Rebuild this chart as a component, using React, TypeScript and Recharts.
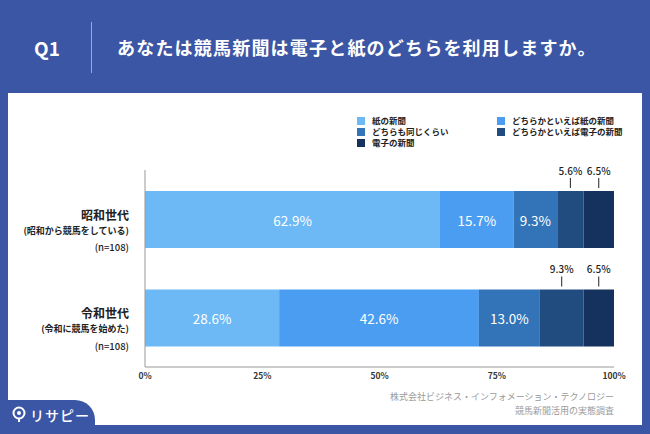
import React from "react";
import { BarChart, Bar, XAxis, YAxis, LabelList } from "recharts";

const categories = ["昭和世代", "令和世代"];
const subLabels = ["(昭和から競馬をしている)", "(令和に競馬を始めた)"];
const sampleSizes = ["(n=108)", "(n=108)"];

const seriesNames = [
  "紙の新聞",
  "どちらかといえば紙の新聞",
  "どちらも同じくらい",
  "どちらかといえば電子の新聞",
  "電子の新聞",
];
const paperOnly = [62.9, 28.6];
const ratherPaper = [15.7, 42.6];
const both = [9.3, 13.0];
const ratherDigital = [5.6, 9.3];
const digitalOnly = [6.5, 6.5];
const xTicks = [0, 25, 50, 75, 100];

const colors = ["#6db9f6", "#4a9df0", "#3373b8", "#214c80", "#15315d"];
const outside = [false, false, false, true, true];
const BLUE = "#3b56a4";
const FONT = "'Noto Sans CJK JP', 'Noto Sans', sans-serif";

const keys = ["s0", "s1", "s2", "s3", "s4"];
const values = [paperOnly, ratherPaper, both, ratherDigital, digitalOnly];
const data = categories.map((name, i) => {
  const row: any = { name };
  keys.forEach((k, j) => (row[k] = values[j][i]));
  return row;
});

const makeLabel = (out: boolean) => (props: any) => {
  const { x, y, width, height, value } = props;
  const cx = x + width / 2;
  if (out) {
    return (
      <g>
        <text x={cx} y={y - 21} textAnchor="middle" dominantBaseline="central"
          fontSize={10} fill="#222" fontFamily={FONT} fontWeight={500}>
          {value.toFixed(1)}%
        </text>
        <line x1={cx} x2={cx} y1={y - 13} y2={y - 3} stroke="#222" strokeWidth={1} />
      </g>
    );
  }
  return (
    <text x={cx} y={y + height / 2} textAnchor="middle" dominantBaseline="central"
      fontSize={13.5} fill="#fff" fontFamily={FONT}>
      {value.toFixed(1)}%
    </text>
  );
};

const CategoryTick = (props: any) => {
  const { x, y, payload } = props;
  const i = categories.indexOf(payload.value);
  return (
    <g fontFamily={FONT} fill="#222" textAnchor="end">
      <text x={x - 8} y={y - 5} fontSize={12} fontWeight={700} dominantBaseline="central">
        {payload.value}
      </text>
      <text x={x - 8} y={y + 11} fontSize={9} fontWeight={700} dominantBaseline="central">
        {subLabels[i]}
      </text>
      <text x={x - 8} y={y + 28} fontSize={9.5} fontWeight={500} dominantBaseline="central">
        {sampleSizes[i]}
      </text>
    </g>
  );
};

const legendRows = [
  [0, 1],
  [2, 3],
  [4],
];

export default function App() {
  return (
    <div style={{ position: "absolute", left: 0, top: 0, width: 650, height: 434, background: BLUE, overflow: "hidden", fontFamily: FONT }}>
      {/* header */}
      <div style={{ position: "absolute", left: 34, top: 34, color: "#fff", fontSize: 19, fontWeight: 700 }}>Q1</div>
      <div style={{ position: "absolute", left: 91, top: 22, width: 1, height: 51, background: "#9aa8d2" }} />
      <div style={{ position: "absolute", left: 117, top: 34, color: "#fff", fontSize: 18, fontWeight: 700, letterSpacing: 1.2, whiteSpace: "nowrap" }}>
        あなたは競馬新聞は電子と紙のどちらを利用しますか。
      </div>
      {/* white panel */}
      <div style={{ position: "absolute", left: 8, top: 93, width: 634, height: 332, background: "#fff" }} />
      {/* legend */}
      {legendRows.map((row, r) =>
        row.map((s, c) => (
          <div key={s} style={{ position: "absolute", left: c === 0 ? 357 : 497, top: 116 + r * 11, height: 9, display: "flex", alignItems: "center", fontSize: 8.5, color: "#222", fontWeight: 700, whiteSpace: "nowrap", lineHeight: "9px" }}>
            <span style={{ display: "inline-block", width: 8, height: 8, background: colors[s], marginRight: 7 }} />
            {seriesNames[s]}
          </div>
        ))
      )}
      <div style={{ position: "absolute", left: 0, top: 0 }}>
        <BarChart width={650} height={434} data={data} layout="vertical"
          margin={{ top: 170, right: 36, bottom: 47, left: 0 }} barSize={57}>
          <XAxis type="number" domain={[0, 100]} ticks={xTicks} tickFormatter={(v) => `${v}%`}
            axisLine={{ stroke: "#999" }} tickLine={false} height={20} tickSize={4}
            tick={{ fontSize: 8.5, fontWeight: 700, fill: "#333", fontFamily: FONT }} interval={0} />
          <YAxis type="category" dataKey="name" width={145} axisLine={{ stroke: "#999" }}
            tickLine={false} tick={<CategoryTick />} />
          {keys.map((k, j) => (
            <Bar key={k} dataKey={k} stackId="a" fill={colors[j]} isAnimationActive={false}>
              <LabelList dataKey={k} content={makeLabel(outside[j])} />
            </Bar>
          ))}
        </BarChart>
      </div>
      {/* source */}
      <div style={{ position: "absolute", right: 36, top: 390, textAlign: "right", fontSize: 9, color: "#9a9a9a", lineHeight: "14px" }}>
        株式会社ビジネス・インフォメーション・テクノロジー<br />競馬新聞活用の実態調査
      </div>
      {/* logo tab */}
      <div style={{ position: "absolute", left: 0, top: 400, width: 95, height: 40, background: BLUE, borderTopRightRadius: 20 }} />
      <svg style={{ position: "absolute", left: 12, top: 406 }} width={14} height={16}>
        <circle cx={7} cy={7} r={5.5} fill="none" stroke="#fff" strokeWidth={2} />
        <circle cx={7} cy={7} r={2} fill="#fff" />
        <line x1={7} y1={12} x2={7} y2={16} stroke="#fff" strokeWidth={2} />
      </svg>
      <div style={{ position: "absolute", left: 30, top: 405, color: "#fff", fontSize: 14, fontWeight: 500, letterSpacing: 1 }}>リサピー</div>
    </div>
  );
}
